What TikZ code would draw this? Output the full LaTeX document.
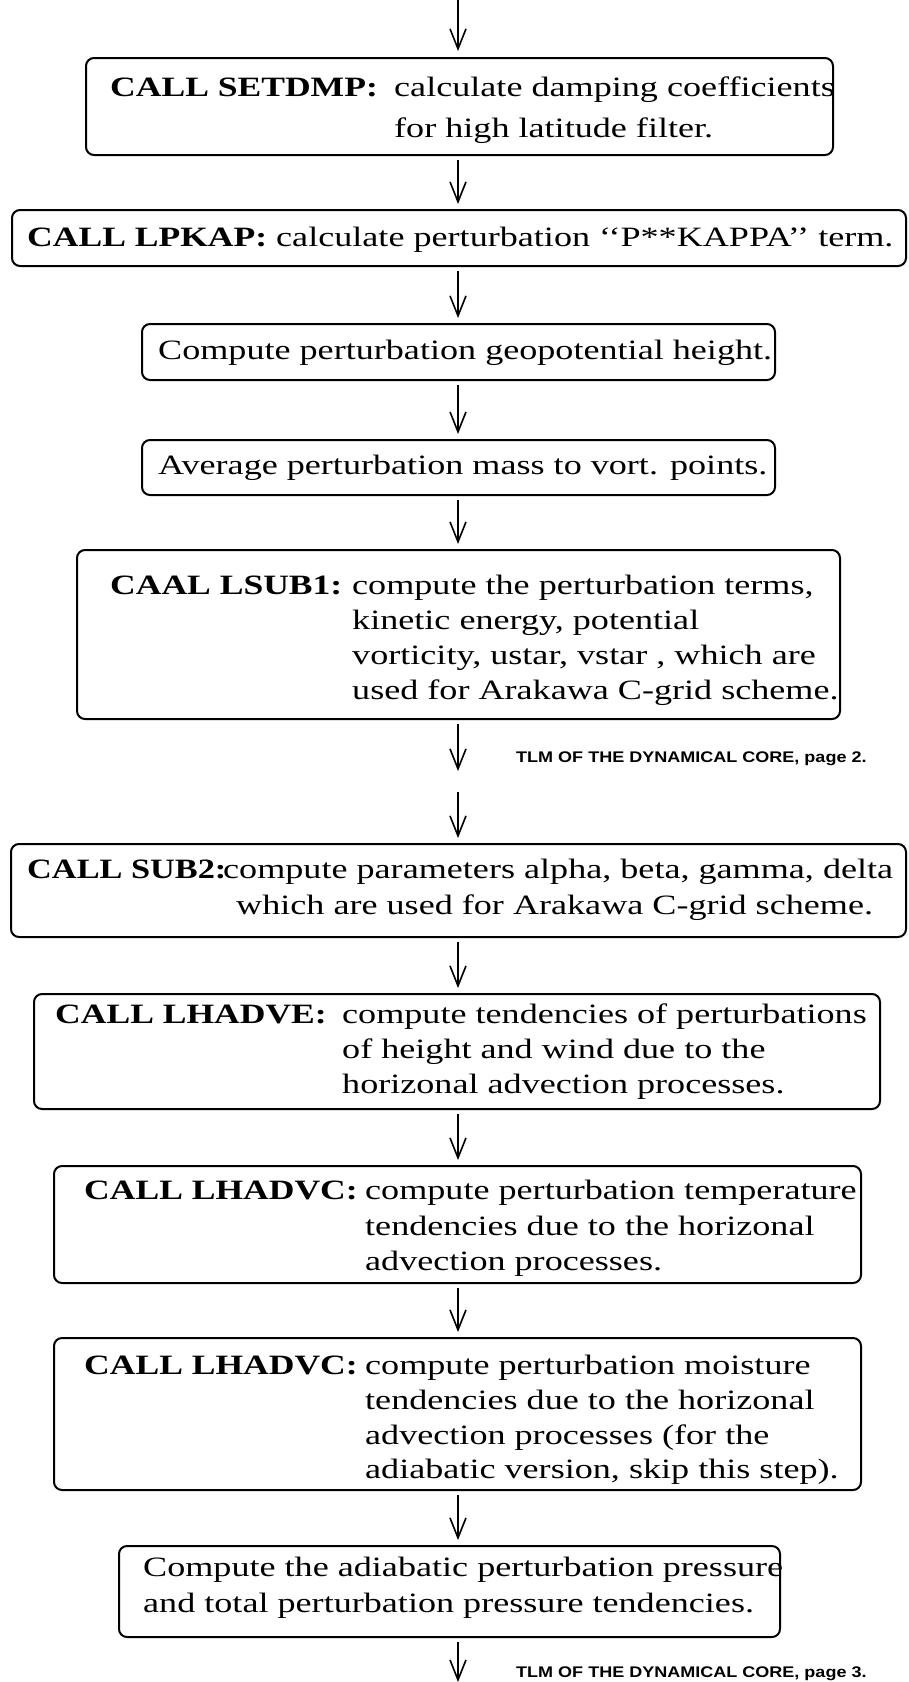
\documentclass[tikz,border=0pt]{standalone}
\usepackage{fontspec}
\setmainfont{Liberation Serif}[FakeStretch=1.29, BoldFeatures={FakeStretch=1.27}]
\newfontfamily\tagfont{Liberation Sans}[FakeStretch=1.17]
\usetikzlibrary{arrows.meta}

\begin{document}
\begin{tikzpicture}[x=1pt,y=-1pt,
  box/.style={draw, line width=2pt, rounded corners=8pt, inner sep=0pt},
  txt/.style={anchor=mid west, inner sep=0pt, font=\fontsize{28}{34}\selectfont},
  hd/.style={txt, font=\fontsize{28}{34}\selectfont\bfseries},
  flow/.style={line width=1.6pt, shorten <=4pt, shorten >=5pt,
    -{Straight Barb[length=20pt,width=16pt,line width=1.6pt]}},
  tag/.style={anchor=mid west, inner sep=0pt, font=\tagfont\bfseries\fontsize{15.4}{18}\selectfont}]
\useasboundingbox (0,0) rectangle (908,1682);

% process boxes
\node[box, minimum width=747pt, minimum height=97pt]  (b1)  at (459.5,106.5) {};
\node[box, minimum width=894pt, minimum height=56pt]  (b2)  at (459,238) {};
\node[box, minimum width=633pt, minimum height=56pt]  (b3)  at (458.5,352) {};
\node[box, minimum width=633pt, minimum height=55pt]  (b4)  at (458.5,467.5) {};
\node[box, minimum width=763pt, minimum height=169pt] (b5)  at (458.5,634.5) {};
\node[box, minimum width=895pt, minimum height=93pt]  (b6)  at (458.5,890.5) {};
\node[box, minimum width=846pt, minimum height=115pt] (b7)  at (457,1051.5) {};
\node[box, minimum width=807pt, minimum height=117pt] (b8)  at (457.5,1224.5) {};
\node[box, minimum width=807pt, minimum height=152pt] (b9)  at (457.5,1414) {};
\node[box, minimum width=661pt, minimum height=91pt]  (b10) at (449.5,1591.5) {};

% box texts
\node[hd]  (h1)  at (110,94)  {CALL SETDMP:};
\node[txt] (t1a) at (394,94)  {calculate damping coefficients};
\node[txt] (t1b) at (394,135) {for high latitude filter.};

\node[hd]  (h2)  at (27,244)  {CALL LPKAP:};
\node[txt] (t2)  at (276,244) {calculate perturbation {`}{`}P**KAPPA{'}{'} term.};

\node[txt] (t3)  at (158,357) {Compute perturbation geopotential height.};
\node[txt] (t4)  at (158,472) {Average perturbation mass to vort. points.};

\node[hd]  (h5)  at (110,592) {CAAL LSUB1:};
\node[txt] (t5a) at (352,592) {compute the perturbation terms,};
\node[txt] (t5b) at (352,627) {kinetic energy, potential};
\node[txt] (t5c) at (352,662) {vorticity, ustar, vstar , which are};
\node[txt] (t5d) at (352,697) {used for Arakawa C-grid scheme.};

\node[hd]  (h6)  at (27,876)  {\scalebox{0.965}[1]{CALL SUB2:}};
\node[txt] (t6a) at (223,876) {compute parameters alpha, beta, gamma, delta};
\node[txt] (t6b) at (236,912) {which are used for Arakawa C-grid scheme.};

\node[hd]  (h7)  at (55,1021)  {CALL LHADVE:};
\node[txt] (t7a) at (342,1021) {compute tendencies of perturbations};
\node[txt] (t7b) at (342,1056) {of height and wind due to the};
\node[txt] (t7c) at (342,1091) {horizonal advection processes.};

\node[hd]  (h8)  at (84,1197)  {CALL LHADVC:};
\node[txt] (t8a) at (365,1197) {compute perturbation temperature};
\node[txt] (t8b) at (365,1233) {tendencies due to the horizonal};
\node[txt] (t8c) at (365,1268) {advection processes.};

\node[hd]  (h9)  at (84,1372)  {CALL LHADVC:};
\node[txt] (t9a) at (365,1372) {compute perturbation moisture};
\node[txt] (t9b) at (365,1407) {tendencies due to the horizonal};
\node[txt] (t9c) at (365,1442) {advection processes (for the};
\node[txt] (t9d) at (365,1476) {adiabatic version, skip this step).};

\node[txt] (t10a) at (143,1574) {Compute the adiabatic perturbation pressure};
\node[txt] (t10b) at (143,1610) {and total perturbation pressure tendencies.};

% page notes
\node[tag] (pg2) at (516,760)  {TLM OF THE DYNAMICAL CORE, page 2.};
\node[tag] (pg3) at (516,1675) {TLM OF THE DYNAMICAL CORE, page 3.};

% flow line
\coordinate (ax)  at (458,0);
\coordinate (top) at (458,0);
\coordinate (c2a) at (458,771);
\coordinate (c2b) at (458,792);
\coordinate (bot) at (458,1682);

\draw[flow, shorten <=0pt, shorten >=6pt] (top) -- (b1.north -| ax);
\draw[flow] (b1.south -| ax) -- (b2.north -| ax);
\draw[flow] (b2.south -| ax) -- (b3.north -| ax);
\draw[flow] (b3.south -| ax) -- (b4.north -| ax);
\draw[flow] (b4.south -| ax) -- (b5.north -| ax);
\draw[flow, shorten >=0pt] (b5.south -| ax) -- (c2a);
\draw[flow, shorten <=0pt] (c2b) -- (b6.north -| ax);
\draw[flow] (b6.south -| ax) -- (b7.north -| ax);
\draw[flow] (b7.south -| ax) -- (b8.north -| ax);
\draw[flow] (b8.south -| ax) -- (b9.north -| ax);
\draw[flow] (b9.south -| ax) -- (b10.north -| ax);
\draw[flow, shorten >=0pt] (b10.south -| ax) -- (bot);
\end{tikzpicture}
\end{document}
